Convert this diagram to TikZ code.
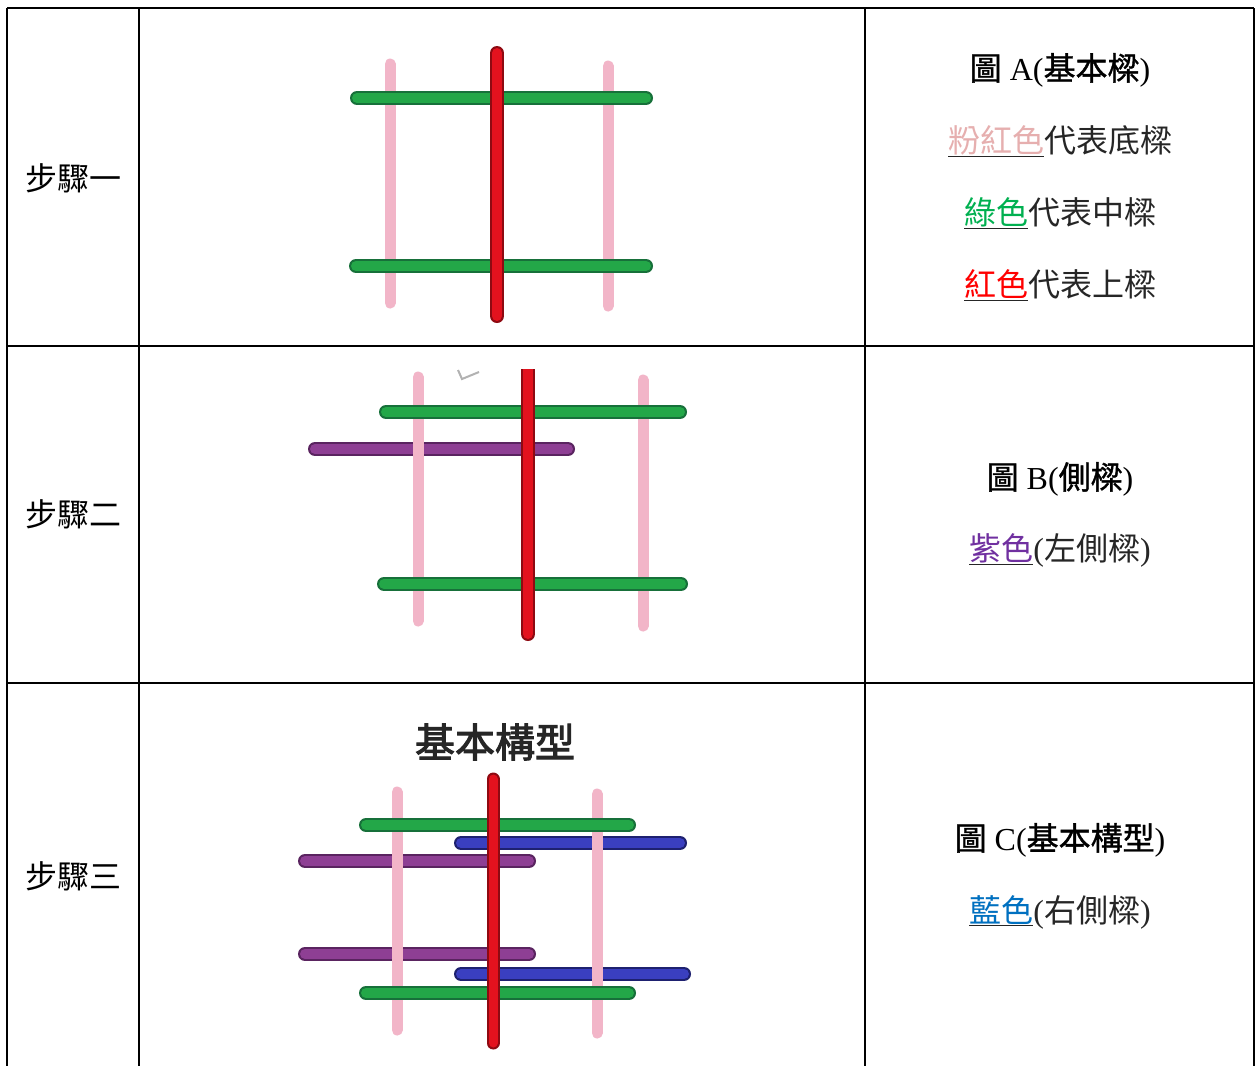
\documentclass[tikz,border=0pt]{standalone}
\usepackage{fontspec}
\setmainfont{Liberation Serif}
\newfontfamily\cjk{Noto Sans CJK TC}
\newfontfamily\cjkbold[AutoFakeBold=2.5]{Noto Sans CJK TC}
\newfontfamily\cjkmid[AutoFakeBold=1.2]{Noto Sans CJK TC}
\definecolor{rpink}{HTML}{F2B5C8}
\definecolor{rgreen}{HTML}{23A748}
\definecolor{rgreenD}{HTML}{17703A}
\definecolor{rred}{HTML}{E3121E}
\definecolor{rredD}{HTML}{8E0A12}
\definecolor{rpurple}{HTML}{8E3F94}
\definecolor{rpurpleD}{HTML}{5A2460}
\definecolor{rblue}{HTML}{3A3FC0}
\definecolor{rblueD}{HTML}{1E2170}
\definecolor{tpink}{HTML}{E6AFAF}
\definecolor{tgreen}{HTML}{00B050}
\definecolor{tred}{HTML}{FF0000}
\definecolor{tpurple}{HTML}{7030A0}
\definecolor{tblue}{HTML}{0070C0}
\tikzset{
  grid/.style={line width=2pt, black},
  steplabel/.style={font=\fontsize{32}{36}\selectfont\cjk, anchor=center, inner sep=0pt},
  rtext/.style={font=\fontsize{32}{36}\selectfont, anchor=center, inner sep=0pt, text=black!85},
  ttext/.style={font=\fontsize{32}{36}\selectfont, anchor=center, inner sep=0pt, text=black},
  pinkrod/.style={line width=11pt, rpink, line cap=round},
}
\newcommand{\rodx}[4]{% color, dark, from, to
  \draw[line width=14pt, #2, line cap=round] #3 -- #4;
  \draw[line width=10pt, #1, line cap=round] #3 -- #4;}
\begin{document}
\begin{tikzpicture}[x=1pt,y=-1pt]
\useasboundingbox (0,0) rectangle (1255,1066);
\fill[white] (0,0) rectangle (1255,1066);
% table grid
\draw[grid] (7,8) -- (1254,8);
\draw[grid] (7,346) -- (1254,346);
\draw[grid] (7,683) -- (1254,683);
\draw[grid] (7,8) -- (7,1066);
\draw[grid] (139,8) -- (139,1066);
\draw[grid] (865,8) -- (865,1066);
\draw[grid] (1254,8) -- (1254,1066);

% left column
\node[steplabel] (s1) at (73,178) {步驟一};
\node[steplabel] (s2) at (73,514) {步驟二};
\node[steplabel] (s3) at (73,876) {步驟三};

% ---------- row 1 picture ----------
\draw[pinkrod] (390,64) -- (390,303);
\draw[pinkrod] (608,66) -- (608,306);
\rodx{rgreen}{rgreenD}{(357,98)}{(646,98)}
\rodx{rgreen}{rgreenD}{(356,266)}{(646,266)}
\draw[line width=14pt, rredD, line cap=round] (497,53) -- (497,316);
\draw[line width=10pt, rred, line cap=round] (497,53) -- (497,316);

% ---------- row 2 picture ----------
\begin{scope}
\clip (300,369) rectangle (720,660);
\draw[gray!60, line width=2pt] (458,370) -- (462,379) -- (479,372);
\rodx{rpurple}{rpurpleD}{(315,449)}{(568,449)}
\draw[pinkrod] (418,377) -- (418,621);
\draw[pinkrod] (643,380) -- (643,626);
\rodx{rgreen}{rgreenD}{(386,412)}{(680,412)}
\rodx{rgreen}{rgreenD}{(384,584)}{(681,584)}
\draw[line width=14pt, rredD, line cap=round] (528,360) -- (528,634);
\draw[line width=10pt, rred, line cap=round] (528,360) -- (528,634);
\end{scope}

% ---------- row 3 picture ----------
\node[font=\fontsize{40}{44}\selectfont\cjkbold\bfseries, inner sep=0pt, text=black!85] (t3) at (495,742) {基本構型};
\rodx{rpurple}{rpurpleD}{(305,861)}{(529,861)}
\rodx{rpurple}{rpurpleD}{(305,954)}{(529,954)}
\rodx{rblue}{rblueD}{(461,843)}{(680,843)}
\rodx{rblue}{rblueD}{(461,974)}{(684,974)}
\draw[pinkrod] (397,792) -- (397,1030);
\draw[pinkrod] (597,794) -- (597,1033);
\rodx{rgreen}{rgreenD}{(366,825)}{(629,825)}
\rodx{rgreen}{rgreenD}{(366,993)}{(629,993)}
\draw[line width=13pt, rredD, line cap=round] (493,779) -- (493,1043);
\draw[line width=9pt, rred, line cap=round] (493,779) -- (493,1043);

% ---------- right column ----------
\node[ttext] (a1) at (1060,70) {{\cjkmid\bfseries 圖} A({\cjkmid\bfseries 基本樑})};
\node[rtext] (a2) at (1060,141) {\underline{\textcolor{tpink}{\cjk 粉紅色}}{\cjk 代表底樑}};
\node[rtext] (a3) at (1060,213) {\underline{\textcolor{tgreen}{\cjk 綠色}}{\cjk 代表中樑}};
\node[rtext] (a4) at (1060,285) {\underline{\textcolor{tred}{\cjk 紅色}}{\cjk 代表上樑}};

\node[ttext] (b1) at (1060,479) {{\cjkmid\bfseries 圖} B({\cjkmid\bfseries 側樑})};
\node[rtext] (b2) at (1060,550) {\underline{\textcolor{tpurple}{\cjk 紫色}}({\cjk 左側樑})};

\node[ttext] (c1) at (1060,840) {{\cjkmid\bfseries 圖} C({\cjkmid\bfseries 基本構型})};
\node[rtext] (c2) at (1060,912) {\underline{\textcolor{tblue}{\cjk 藍色}}({\cjk 右側樑})};
\end{tikzpicture}
\end{document}
